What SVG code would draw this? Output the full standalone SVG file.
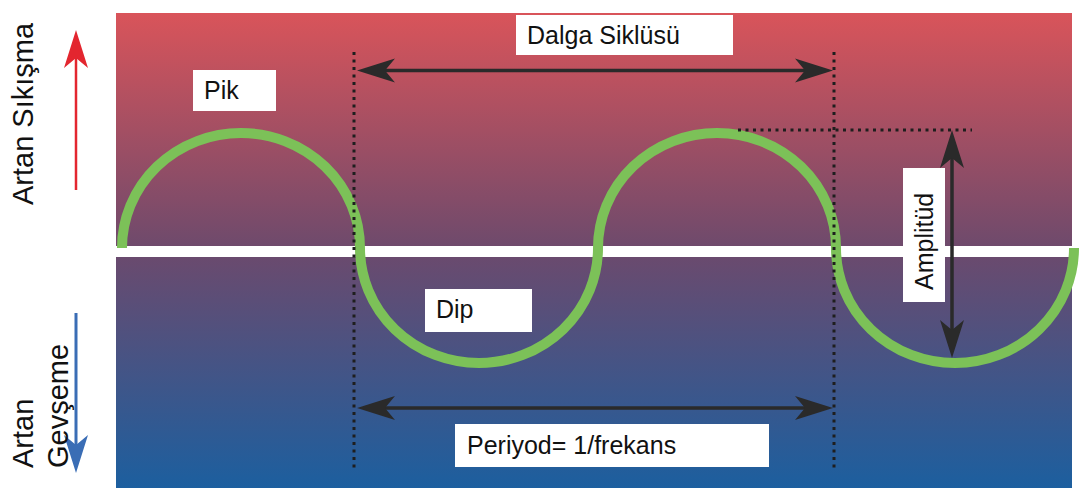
<svg xmlns="http://www.w3.org/2000/svg" width="1081" height="490" viewBox="0 0 1081 490">
<style>
.lbl{fill:#ffffff}
.t{font-family:"Liberation Sans",Arial,sans-serif;font-size:25px;fill:#111}
.side{font-family:"Liberation Sans",Arial,sans-serif;font-size:29px;fill:#111}
.dim{stroke:#2a2a2a;stroke-width:3.5;fill:none}
.dot{stroke:#1e1e1e;stroke-width:3;stroke-dasharray:3 4.5;fill:none}
</style>
<defs>
<linearGradient id="gTop" x1="0" y1="0" x2="0" y2="1">
<stop offset="0" stop-color="#d9545a"/>
<stop offset="1" stop-color="#6e4a6c"/>
</linearGradient>
<linearGradient id="gBot" x1="0" y1="0" x2="0" y2="1">
<stop offset="0" stop-color="#6a4a6e"/>
<stop offset="1" stop-color="#1c5f9f"/>
</linearGradient>
<marker id="ah" viewBox="-30 -13 42 26" refX="0" refY="0" markerWidth="42" markerHeight="26" markerUnits="userSpaceOnUse" orient="auto-start-reverse">
<path d="M10,0 L-28,-12 L-18,0 L-28,12 Z" fill="#2a2a2a"/>
</marker>
<marker id="ahR" viewBox="-30 -13 42 26" refX="0" refY="0" markerWidth="42" markerHeight="26" markerUnits="userSpaceOnUse" orient="auto">
<path d="M10,0 L-28,-12 L-18,0 L-28,12 Z" fill="#e3262f"/>
</marker>
<marker id="ahB" viewBox="-30 -13 42 26" refX="0" refY="0" markerWidth="42" markerHeight="26" markerUnits="userSpaceOnUse" orient="auto">
<path d="M10,0 L-28,-12 L-18,0 L-28,12 Z" fill="#3a6db5"/>
</marker>
</defs>
<rect width="1081" height="490" fill="#ffffff"/>
<g id="background">
<rect x="116" y="13" width="956" height="234" fill="url(#gTop)"/>
<rect x="116" y="256" width="956" height="232" fill="url(#gBot)"/>
<rect x="116" y="246" width="956" height="11" fill="#ffffff"/>
</g>
<g id="wave">
<path d="M122,248 A119,115 0 0 1 360,248 A119,115 0 0 0 598,248 A119,115 0 0 1 836,248 A119,115 0 0 0 1074,248" fill="none" stroke="#7cc158" stroke-width="10"/>
</g>
<g id="connectors">
<line class="dot" x1="354" y1="52" x2="354" y2="468"/>
<line class="dot" x1="834" y1="52" x2="834" y2="468"/>
<line class="dot" x1="738" y1="130" x2="972" y2="130"/>
<line class="dim" x1="367" y1="70.5" x2="823" y2="70.5" marker-start="url(#ah)" marker-end="url(#ah)"/>
<line class="dim" x1="367" y1="408" x2="823" y2="408" marker-start="url(#ah)" marker-end="url(#ah)"/>
<line class="dim" x1="952" y1="140" x2="952" y2="348" marker-start="url(#ah)" marker-end="url(#ah)"/>
<line x1="76" y1="190" x2="76" y2="40" stroke="#e3262f" stroke-width="2.5" marker-end="url(#ahR)"/>
<line x1="76" y1="313" x2="76" y2="463" stroke="#3a6db5" stroke-width="3" marker-end="url(#ahB)"/>
</g>
<g id="dalga-siklusu">
<rect class="lbl" x="516" y="15" width="217" height="40"/>
<text class="t" x="527" y="44">Dalga Siklüsü</text>
</g>
<g id="pik">
<rect class="lbl" x="193" y="70" width="83" height="41"/>
<text class="t" x="204" y="99">Pik</text>
</g>
<g id="dip">
<rect class="lbl" x="425" y="289" width="107" height="43"/>
<text class="t" x="436" y="318">Dip</text>
</g>
<g id="periyod">
<rect class="lbl" x="455" y="424" width="314" height="43"/>
<text class="t" x="467" y="454">Periyod= 1/frekans</text>
</g>
<g id="amplitud">
<rect class="lbl" x="903" y="168" width="42" height="134"/>
<text class="t" transform="translate(933,290) rotate(-90)">Amplitüd</text>
</g>
<g id="artan-sikisma">
<text class="side" transform="translate(33,205) rotate(-90)">Artan Sıkışma</text>
</g>
<g id="artan-gevseme">
<text class="side" transform="translate(33,468) rotate(-90)">Artan</text>
<text class="side" transform="translate(68,468) rotate(-90)">Gevşeme</text>
</g>
</svg>
